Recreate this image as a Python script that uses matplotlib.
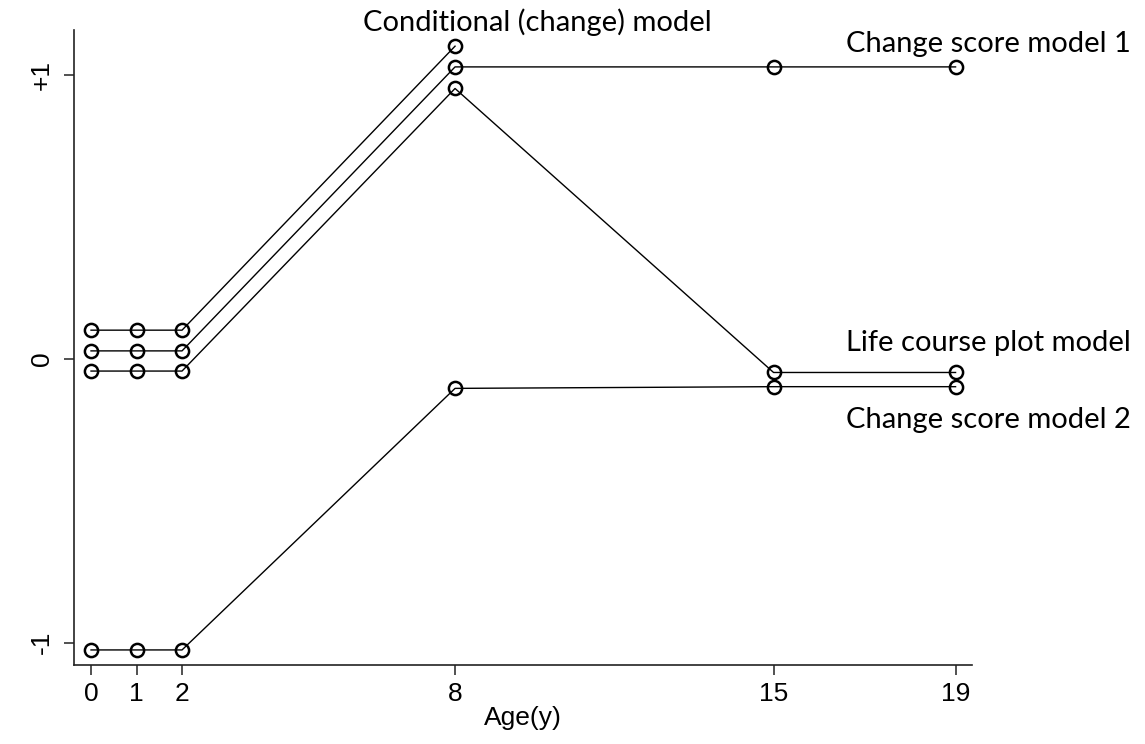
import matplotlib
matplotlib.use("Agg")
import matplotlib.pyplot as plt

plt.rcParams["font.family"] = ["Liberation Sans", "DejaVu Sans"]

ages = [0, 1, 2, 8, 15, 19]
x_ticks = [0, 1, 2, 8, 15, 19]
y_ticks = [-1, 0, 1]
y_ticklabels = ["-1", "0", "+1"]

conditional_ages = [0, 1, 2, 8]
conditional = [0.10, 0.10, 0.10, 1.10]
change_score_1 = [0.027, 0.027, 0.027, 1.027, 1.027, 1.027]
life_course = [-0.044, -0.044, -0.044, 0.951, -0.049, -0.049]
change_score_2 = [-1.026, -1.026, -1.026, -0.105, -0.099, -0.099]

labels = ["Conditional (change) model", "Change score model 1",
          "Life course plot model", "Change score model 2"]

fig = plt.figure(figsize=(11.45, 7.44), dpi=100)
ax = fig.add_axes([0.0642, 0.1062, 0.8487 - 0.0642, 0.9597 - 0.1062])

style = dict(color="black", lw=1.0, marker="o", markersize=9.5,
             markerfacecolor="none", markeredgecolor="black",
             markeredgewidth=1.8, clip_on=False, zorder=3)
ax.plot(conditional_ages, conditional, **style)
ax.plot(ages, change_score_1, **style)
ax.plot(ages, life_course, **style)
ax.plot(ages, change_score_2, **style)

ax.set_xlim(-0.385, 19.356)
ax.set_ylim(-1.079, 1.157)

for s in ["top", "right"]:
    ax.spines[s].set_visible(False)
for s in ["left", "bottom"]:
    ax.spines[s].set_linewidth(1.2)
    ax.spines[s].set_color("#222222")

ax.set_xticks(x_ticks)
ax.set_xticklabels([str(t) for t in x_ticks])
ax.set_yticks(y_ticks)
ax.set_yticklabels(y_ticklabels, rotation=90, va="center")
ax.tick_params(axis="both", direction="out", length=7, width=1.1,
               color="#222222", labelsize=19)
ax.tick_params(axis="x", pad=5)
ax.tick_params(axis="y", pad=7)
ax.set_xlabel("Age(y)", fontsize=19, labelpad=0)

tfont = dict(fontfamily="Lato", fontsize=21, color="black", clip_on=False)
ax.text(5.98, 1.185, labels[0], ha="left", va="center", **tfont)
ax.text(16.6, 1.107, labels[1], ha="left", va="center", **tfont)
ax.text(16.6, 0.055, labels[2], ha="left", va="center", **tfont)
ax.text(16.6, -0.217, labels[3], ha="left", va="center", **tfont)

fig.savefig("out.png", dpi=100)
